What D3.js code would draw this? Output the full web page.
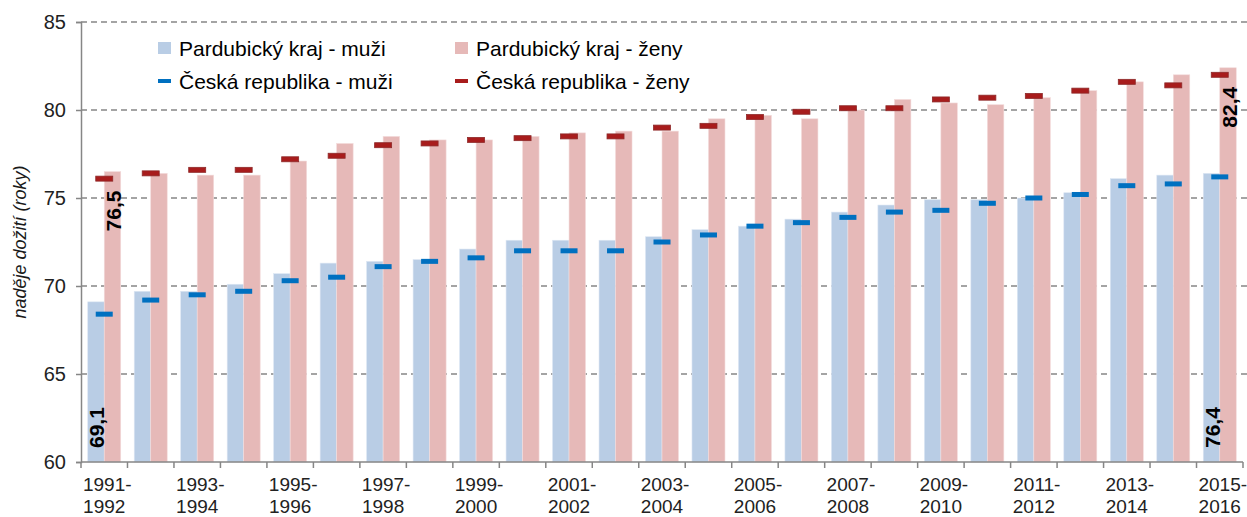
<!DOCTYPE html>
<html>
<head>
<meta charset="utf-8">
<script src="https://cdnjs.cloudflare.com/ajax/libs/d3/7.8.5/d3.min.js"></script>
<style>
  body { margin: 0; background: #fff; }
  text { font-family: "Liberation Sans", Arial, sans-serif; fill: #1a1a1a; }
</style>
</head>
<body>
<svg id="chart" width="1247" height="517"></svg>
<script>
// periods 1991-1992 ... 2015-2016
var periods = [];
for (var yr = 1991; yr <= 2015; yr++) periods.push(yr + "-" + (yr + 1));

// Pardubický kraj (bars)
var pardMen   = [69.1, 69.7, 69.7, 70.1, 70.7, 71.3, 71.4, 71.5, 72.1, 72.6, 72.6, 72.6, 72.8,
                 73.2, 73.4, 73.8, 74.2, 74.6, 74.9, 74.9, 75.0, 75.3, 76.1, 76.3, 76.4];
var pardWomen = [76.5, 76.4, 76.3, 76.3, 77.1, 78.1, 78.5, 78.3, 78.3, 78.5, 78.7, 78.8, 78.8,
                 79.5, 79.7, 79.5, 80.0, 80.6, 80.4, 80.3, 80.7, 81.1, 81.6, 82.0, 82.4];
// Česká republika (markers)
var czMen     = [68.4, 69.2, 69.5, 69.7, 70.3, 70.5, 71.1, 71.4, 71.6, 72.0, 72.0, 72.0, 72.5,
                 72.9, 73.4, 73.6, 73.9, 74.2, 74.3, 74.7, 75.0, 75.2, 75.7, 75.8, 76.2];
var czWomen   = [76.1, 76.4, 76.6, 76.6, 77.2, 77.4, 78.0, 78.1, 78.3, 78.4, 78.5, 78.5, 79.0,
                 79.1, 79.6, 79.9, 80.1, 80.1, 80.6, 80.7, 80.8, 81.1, 81.6, 81.4, 82.0];

var yTicks = [60, 65, 70, 75, 80, 85];
var seriesNames = ["Pardubický kraj - muži", "Pardubický kraj - ženy",
                   "Česká republika - muži", "Česká republika - ženy"];
// labelled bars: [period index, series]
var labelled = [[0, "m"], [0, "z"], [24, "m"], [24, "z"]];

var colBarM = "#b9cde5", colBarZ = "#e6b9b8", colMarkM = "#0070c0", colMarkZ = "#a81c1c";

var svg = d3.select("#chart");
var plotL = 81, plotR = 1243, plotT = 22, plotB = 462;

var x = d3.scaleBand().domain(periods).range([plotL, plotR]).paddingInner(0.29).paddingOuter(0.145);
var xSlot = d3.scaleBand().domain(periods).range([plotL, plotR]).padding(0);
var xs = d3.scaleBand().domain(["m", "z"]).range([0, x.bandwidth()]);
var yScale = d3.scaleLinear().domain([60, 85]).range([plotB, plotT]);

// gridlines
svg.append("g").selectAll("line").data(yTicks.slice(1)).join("line")
  .attr("x1", plotL).attr("x2", plotR + 4)
  .attr("y1", d => yScale(d)).attr("y2", d => yScale(d))
  .attr("stroke", "#868686").attr("stroke-width", 1.5).attr("stroke-dasharray", "6,4");

// bars
var rows = periods.map((p, i) => ({p: p, i: i, m: pardMen[i], z: pardWomen[i], cm: czMen[i], cz: czWomen[i]}));
var g = svg.append("g");
g.selectAll("rect.m").data(rows).join("rect").attr("class", "m")
  .attr("x", d => x(d.p) + xs("m")).attr("width", xs.bandwidth())
  .attr("y", d => yScale(d.m)).attr("height", d => yScale(60) - yScale(d.m))
  .attr("fill", colBarM).attr("stroke", "#dde7f3").attr("stroke-width", 0.6);
g.selectAll("rect.z").data(rows).join("rect").attr("class", "z")
  .attr("x", d => x(d.p) + xs("z")).attr("width", xs.bandwidth())
  .attr("y", d => yScale(d.z)).attr("height", d => yScale(60) - yScale(d.z))
  .attr("fill", colBarZ).attr("stroke", "#f3dcdc").attr("stroke-width", 0.6);

// ČR markers, centred on the period
var mw = 17, mh = 5;
g.selectAll("rect.cm").data(rows).join("rect").attr("class", "cm")
  .attr("x", d => x(d.p) + x.bandwidth() / 2 - mw / 2).attr("width", mw)
  .attr("y", d => yScale(d.cm) - mh / 2).attr("height", mh)
  .attr("fill", colMarkM);
g.selectAll("rect.cz").data(rows).join("rect").attr("class", "cz")
  .attr("x", d => x(d.p) + x.bandwidth() / 2 - mw / 2).attr("width", mw)
  .attr("y", d => yScale(d.cz) - mh / 2).attr("height", mh)
  .attr("fill", colMarkZ).attr("stroke", "#8e2a2a").attr("stroke-width", 0.8);

// data labels (rotated)
labelled.forEach(function (l) {
  var r = rows[l[0]];
  var v = l[1] === "m" ? r.m : r.z;
  var cx = x(r.p) + xs(l[1]) + xs.bandwidth() / 2;
  var cy = l[1] === "m" ? yScale(60) - 14 : yScale(v) + 19;
  svg.append("text")
    .attr("transform", "translate(" + (cx + 1) + "," + cy + ") rotate(-90)")
    .attr("text-anchor", l[1] === "m" ? "start" : "end")
    .attr("dominant-baseline", "central")
    .attr("font-size", 21).attr("font-weight", "bold").style("fill", "#000")
    .text(d3.format(".1f")(v).replace(".", ","));
});

// y axis
var yAxis = svg.append("g").attr("transform", "translate(" + plotL + ",0)")
  .call(d3.axisLeft(yScale).tickValues(yTicks).tickSize(5).tickPadding(10));
yAxis.select(".domain").attr("stroke", "#868686").attr("stroke-width", 1.5);
yAxis.selectAll(".tick line").attr("stroke", "#868686").attr("stroke-width", 1.5);
yAxis.selectAll(".tick text").attr("font-size", 20).attr("font-family", "Liberation Sans, Arial, sans-serif")
  .style("fill", "#222");

svg.append("text")
  .attr("transform", "translate(20,242) rotate(-90)")
  .attr("text-anchor", "middle").attr("dominant-baseline", "central")
  .attr("font-size", 18).attr("font-style", "italic")
  .text("naděje dožití (roky)");

// x axis
svg.append("line").attr("x1", plotL).attr("x2", plotR).attr("y1", plotB).attr("y2", plotB)
  .attr("stroke", "#868686").attr("stroke-width", 1.5);
var bounds = periods.map(p => xSlot(p)).concat([plotR]);
svg.append("g").selectAll("line").data(bounds).join("line")
  .attr("x1", d => d).attr("x2", d => d).attr("y1", plotB).attr("y2", plotB + 6)
  .attr("stroke", "#868686").attr("stroke-width", 1.5);
var xl = svg.append("g").selectAll("text").data(periods.filter((p, i) => i % 2 === 0)).join("text")
  .attr("text-anchor", "middle").attr("font-size", 19).style("fill", "#222")
  .attr("transform", d => "translate(" + (xSlot(d) + xSlot.bandwidth() / 2 + 3) + ",0)");
xl.append("tspan").attr("x", 0).attr("y", 491).text(d => d.split("-")[0] + "-");
xl.append("tspan").attr("x", -3).attr("y", 513).text(d => d.split("-")[1]);

// legend
var legend = [
  {name: seriesNames[0], type: "box", color: colBarM, x: 158, y: 48},
  {name: seriesNames[1], type: "box", color: colBarZ, x: 455, y: 48},
  {name: seriesNames[2], type: "line", color: colMarkM, x: 158, y: 81},
  {name: seriesNames[3], type: "line", color: colMarkZ, x: 455, y: 81}
];
var lg = svg.append("g").selectAll("g").data(legend).join("g")
  .attr("transform", d => "translate(" + d.x + "," + d.y + ")");
lg.append("rect")
  .attr("x", 0).attr("width", 13)
  .attr("y", d => d.type === "box" ? -6 : -2).attr("height", d => d.type === "box" ? 12 : 4)
  .attr("fill", d => d.color);
lg.append("text").attr("x", 21).attr("dominant-baseline", "central")
  .attr("font-size", 21).style("fill", "#000").text(d => d.name);
</script>
</body>
</html>
